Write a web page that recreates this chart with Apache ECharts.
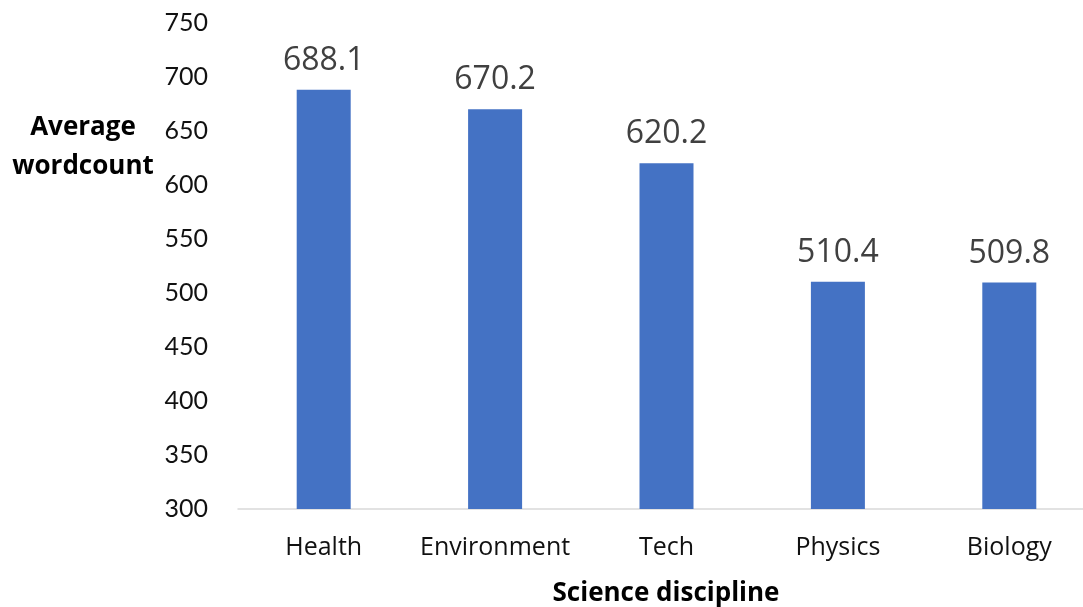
<!DOCTYPE html>
<html>
<head>
<meta charset="utf-8">
<script src="https://cdn.jsdelivr.net/npm/echarts@6/dist/echarts.min.js"></script>
<style>
  html, body { margin: 0; padding: 0; background: #fff; overflow: hidden; }
  /* the plot area runs a little past the right edge of the window */
  #chart { width: 1095px; height: 607px; }
</style>
</head>
<body>
<div id="chart"></div>
<script>
// Average wordcount per science discipline
const categories = ['Health', 'Environment', 'Tech', 'Physics', 'Biology'];
const wordcounts = [688.1, 670.2, 620.2, 510.4, 509.8];
const yAxisTitle = ['Average', 'wordcount'];
const xAxisTitle = 'Science discipline';

const SANS = '"Open Sans", Lato, sans-serif';
const TICK_FONT = 'Lato, "Open Sans", sans-serif';

const chart = echarts.init(document.getElementById('chart'), null, { renderer: 'canvas' });

chart.setOption({
  animation: false,
  backgroundColor: '#ffffff',
  grid: { left: 238, right: 0, top: 23, bottom: 98, containLabel: false, outerBoundsMode: 'none' },
  xAxis: {
    type: 'category',
    data: categories,
    axisLine: { show: true, lineStyle: { color: '#d9d9d9', width: 1.5 } },
    axisTick: { show: false },
    axisLabel: { color: '#111', fontFamily: SANS, fontSize: 25, margin: 26, interval: 0 }
  },
  yAxis: {
    type: 'value',
    min: 300,
    max: 750,
    interval: 50,
    axisLine: { show: false },
    axisTick: { show: false },
    splitLine: { show: false },
    axisLabel: { color: '#111', fontFamily: TICK_FONT, fontSize: 25, margin: 30 }
  },
  series: [{
    type: 'bar',
    data: wordcounts,
    barWidth: 54,
    itemStyle: { color: '#4472c4' },
    label: {
      show: true,
      position: 'top',
      distance: 13,
      color: '#404040',
      fontFamily: SANS,
      fontSize: 32,
      formatter: p => p.value.toFixed(1)
    }
  }],
  graphic: [
    {
      type: 'text',
      x: 83,
      y: 147,
      style: {
        text: yAxisTitle.join('\n'),
        fontFamily: SANS,
        fontWeight: 'bold',
        fontSize: 26,
        lineHeight: 39,
        fill: '#000',
        align: 'center',
        verticalAlign: 'middle'
      }
    },
    {
      type: 'text',
      x: 666,
      y: 594,
      style: {
        text: xAxisTitle,
        fontFamily: SANS,
        fontWeight: 'bold',
        fontSize: 26,
        fill: '#000',
        align: 'center',
        verticalAlign: 'middle'
      }
    }
  ]
});
</script>
</body>
</html>
